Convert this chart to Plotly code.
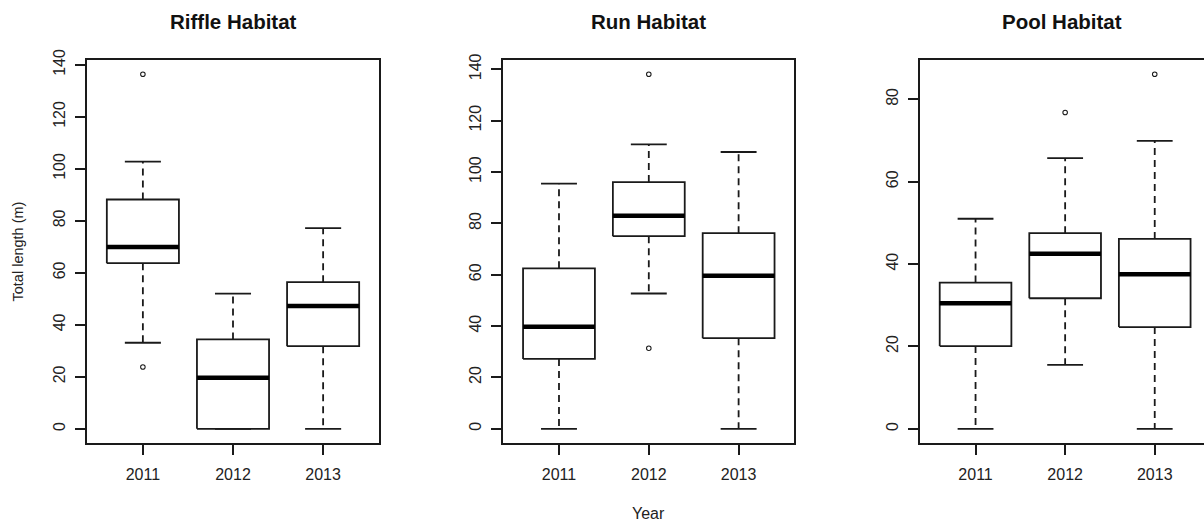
import plotly.graph_objects as go

# Year categories shared by all three panels
years = ["2011", "2012", "2013"]

# Riffle habitat box statistics (total length, m)
riffle_low = [33.1, 0.0, 0.0]
riffle_q1 = [63.7, 0.0, 31.8]
riffle_med = [69.9, 19.6, 47.2]
riffle_q3 = [88.2, 34.4, 56.4]
riffle_high = [102.8, 52.0, 77.2]
riffle_out_year = ["2011", "2011"]
riffle_out_val = [136.4, 23.8]

# Run habitat box statistics
run_low = [0.0, 52.7, 0.0]
run_q1 = [27.2, 75.0, 35.3]
run_med = [39.7, 83.0, 59.6]
run_q3 = [62.5, 96.1, 76.2]
run_high = [95.5, 110.8, 107.8]
run_out_year = ["2012", "2012"]
run_out_val = [138.1, 31.4]

# Pool habitat box statistics
pool_low = [0.0, 15.5, 0.0]
pool_q1 = [20.1, 31.7, 24.7]
pool_med = [30.5, 42.5, 37.5]
pool_q3 = [35.5, 47.5, 46.1]
pool_high = [51.0, 65.7, 69.9]
pool_out_year = ["2012", "2013"]
pool_out_val = [76.8, 86.1]

titles = ["Riffle Habitat", "Run Habitat", "Pool Habitat"]
y_ticks = [[0, 20, 40, 60, 80, 100, 120, 140],
           [0, 20, 40, 60, 80, 100, 120, 140],
           [0, 20, 40, 60, 80]]

panels = [
    (riffle_low, riffle_q1, riffle_med, riffle_q3, riffle_high, riffle_out_year, riffle_out_val),
    (run_low, run_q1, run_med, run_q3, run_high, run_out_year, run_out_val),
    (pool_low, pool_q1, pool_med, pool_q3, pool_high, pool_out_year, pool_out_val),
]

W, H = 1204, 521
FONT = "Liberation Sans, Arial, sans-serif"
INK = "#1a1a1a"
BOX_HALF = 0.4
CAP_HALF = 0.2

# Plot-area extents in pixels
x_domains_px = [(87, 379), (503.3, 794.3), (920, 1204)]
y_top_px, y_bot_px = 60, 443
y_domain = [(H - y_bot_px) / H, (H - y_top_px) / H]

fig = go.Figure()

for i, (lo, q1, med, q3, hi, oy, ov) in enumerate(panels):
    xa = "x" if i == 0 else f"x{i + 1}"
    ya = "y" if i == 0 else f"y{i + 1}"
    pos = {y: k + 1 for k, y in enumerate(years)}

    wx, wy, cx, cy, bx, by, mx, my = [], [], [], [], [], [], [], []
    for k, yr in enumerate(years):
        p = pos[yr]
        # dashed whiskers
        wx += [p, p, None, p, p, None]
        wy += [q3[k], hi[k], None, q1[k], lo[k], None]
        # whisker caps
        cx += [p - CAP_HALF, p + CAP_HALF, None, p - CAP_HALF, p + CAP_HALF, None]
        cy += [hi[k], hi[k], None, lo[k], lo[k], None]
        # box outline
        bx += [p - BOX_HALF, p + BOX_HALF, p + BOX_HALF, p - BOX_HALF, p - BOX_HALF, None]
        by += [q1[k], q1[k], q3[k], q3[k], q1[k], None]
        # median bar
        mx += [p - BOX_HALF, p + BOX_HALF, None]
        my += [med[k], med[k], None]

    fig.add_trace(go.Scatter(x=wx, y=wy, mode="lines", xaxis=xa, yaxis=ya,
                             line=dict(color=INK, width=1.8, dash="7px,5px"),
                             hoverinfo="skip", showlegend=False))
    fig.add_trace(go.Scatter(x=cx, y=cy, mode="lines", xaxis=xa, yaxis=ya,
                             line=dict(color=INK, width=1.8),
                             hoverinfo="skip", showlegend=False))
    fig.add_trace(go.Scatter(x=bx, y=by, mode="lines", xaxis=xa, yaxis=ya,
                             fill="toself", fillcolor="white",
                             line=dict(color=INK, width=1.8),
                             hoverinfo="skip", showlegend=False))
    fig.add_trace(go.Scatter(x=mx, y=my, mode="lines", xaxis=xa, yaxis=ya,
                             line=dict(color="black", width=4.5),
                             hoverinfo="skip", showlegend=False))
    fig.add_trace(go.Scatter(x=[pos[y] for y in oy], y=ov, mode="markers",
                             xaxis=xa, yaxis=ya,
                             marker=dict(symbol="circle-open", size=4.5,
                                         color=INK, line=dict(width=1.1)),
                             hoverinfo="skip", showlegend=False))

    # y range padded 4% beyond the data extent
    all_vals = lo + hi + ov
    vmin, vmax = min(all_vals), max(all_vals)
    pad = 0.04 * (vmax - vmin)
    y_range = [vmin - pad, vmax + pad]

    x0, x1 = x_domains_px[i]
    x_range = [0.38, 3.55] if i == 2 else [0.38, 3.62]

    xkey = "xaxis" if i == 0 else f"xaxis{i + 1}"
    ykey = "yaxis" if i == 0 else f"yaxis{i + 1}"
    fig.update_layout(**{
        xkey: dict(domain=[x0 / W, x1 / W], anchor=ya, range=x_range,
                   automargin=False,
                   tickmode="array", tickvals=[1, 2, 3], ticktext=years,
                   showline=True, mirror=True, linecolor=INK, linewidth=1.8,
                   ticks="outside", ticklen=10, tickwidth=1.8, tickcolor=INK,
                   showgrid=False, zeroline=False,
                   tickfont=dict(family=FONT, size=16, color="#222"),
                   ticklabelstandoff=6),
        ykey: dict(domain=y_domain, anchor=xa, range=y_range,
                   automargin=False,
                   tickmode="array", tickvals=y_ticks[i],
                   showline=True, mirror=(i != 2), linecolor=INK, linewidth=1.8,
                   ticks="outside", ticklen=10, tickwidth=1.8, tickcolor=INK,
                   showgrid=False, zeroline=False, tickangle=-90,
                   tickfont=dict(family=FONT, size=16, color="#222"),
                   ticklabelstandoff=4),
    })

    fig.add_annotation(text=f"<b>{titles[i]}</b>", xref="paper", yref="paper",
                       x=(x0 + x1) / 2 / W, y=(H - 22) / H,
                       xanchor="center", yanchor="middle", showarrow=False,
                       font=dict(family=FONT, size=20.5, color="#111"))

fig.add_annotation(text="Total length (m)", xref="paper", yref="paper",
                   x=18 / W, y=(H - 251.5) / H, textangle=-90,
                   xanchor="center", yanchor="middle", showarrow=False,
                   font=dict(family=FONT, size=14.5, color="#222"))
fig.add_annotation(text="Year", xref="paper", yref="paper",
                   x=(503.3 + 794.3) / 2 / W, y=(H - 513) / H,
                   xanchor="center", yanchor="middle", showarrow=False,
                   font=dict(family=FONT, size=16, color="#222"))

fig.update_layout(template="none", width=W, height=H,
                  margin=dict(l=0, r=0, t=0, b=0, pad=0),
                  paper_bgcolor="white", plot_bgcolor="white",
                  showlegend=False)

fig.write_html("out.html")
